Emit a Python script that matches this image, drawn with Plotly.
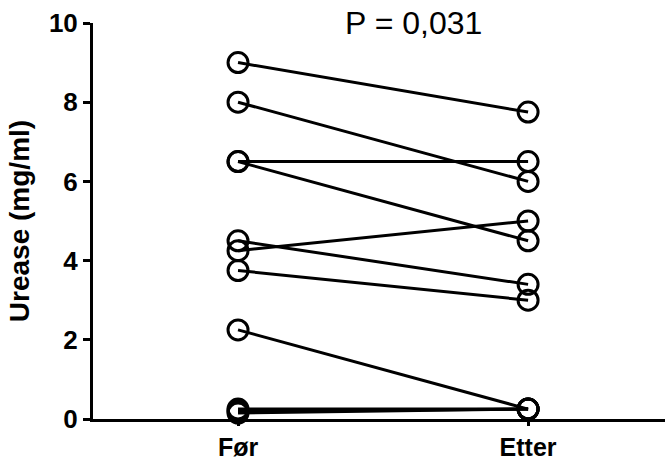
import plotly.graph_objects as go

categories = ["Før", "Etter"]
before = [9.0, 8.0, 6.5, 6.5, 4.5, 4.25, 3.75, 2.25, 0.25, 0.2, 0.15]
after = [7.75, 6.0, 6.5, 4.5, 3.4, 5.0, 3.0, 0.25, 0.25, 0.25, 0.25]
y_ticks = [0, 2, 4, 6, 8, 10]
p_text = "P = 0,031"
y_title = "Urease (mg/ml)"

font_family = "Arial, Liberation Sans, sans-serif"

fig = go.Figure()
for b, a in zip(before, after):
    fig.add_trace(go.Scatter(
        x=[0, 1], y=[b, a],
        mode="lines+markers",
        line=dict(color="black", width=3),
        marker=dict(symbol="circle-open", size=20, color="black",
                    line=dict(width=3, color="black")),
        cliponaxis=False,
        showlegend=False,
        hoverinfo="y",
    ))

fig.add_annotation(
    text=p_text, x=0.605, xref="x", y=1.0, yref="paper",
    yanchor="middle", xanchor="center", showarrow=False,
    font=dict(family=font_family, size=32, color="black"),
)

fig.update_layout(
    width=665, height=459,
    margin=dict(l=93, r=0, t=23, b=40, autoexpand=False),
    plot_bgcolor="white", paper_bgcolor="white",
    font=dict(family=font_family, color="black"),
    xaxis=dict(
        range=[-0.5, 1.472],
        tickvals=[0, 1], ticktext=categories,
        showline=True, linecolor="black", linewidth=3,
        ticks="outside", ticklen=4, tickwidth=3, tickcolor="black",
        showgrid=False, zeroline=False, automargin=False,
        tickfont=dict(family=font_family, size=25, color="black", weight="bold"),
    ),
    yaxis=dict(
        range=[0, 10],
        tickvals=y_ticks,
        showline=True, linecolor="black", linewidth=3,
        ticks="outside", ticklen=7, tickwidth=3, tickcolor="black",
        showgrid=False, zeroline=False, automargin=False,
        tickfont=dict(family=font_family, size=26, color="black", weight="bold"),
        title=dict(text=y_title, standoff=12,
                   font=dict(family=font_family, size=28, color="black", weight="bold")),
    ),
)

fig.write_html("out.html", config={"displayModeBar": False},
               post_script="document.body.style.margin='0';")
